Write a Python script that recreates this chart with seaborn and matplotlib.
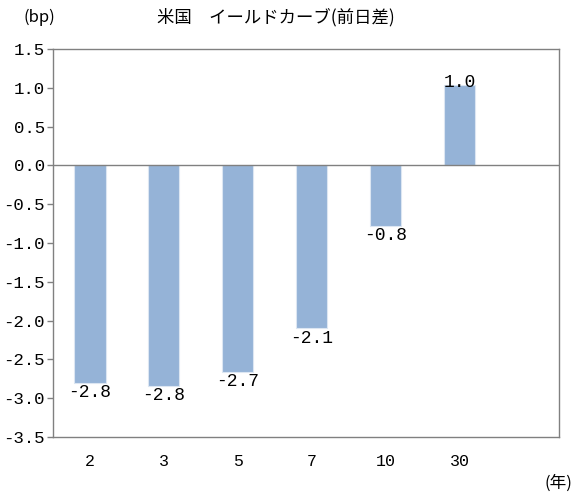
import pandas as pd
import seaborn as sns
import matplotlib.pyplot as plt
from matplotlib.ticker import FixedLocator, FuncFormatter

# data
maturities = ['2', '3', '5', '7', '10', '30']
changes = [-2.80, -2.84, -2.66, -2.10, -0.78, 1.03]
yticks = [1.5, 1.0, 0.5, 0.0, -0.5, -1.0, -1.5, -2.0, -2.5, -3.0, -3.5]

sns.set_theme(style='white')
plt.rcParams['font.family'] = ['Noto Sans CJK JP', 'DejaVu Sans']
plt.rcParams['axes.unicode_minus'] = False
plt.rcParams['text.color'] = 'black'
num_font = ['Liberation Mono', 'DejaVu Sans Mono']

df = pd.DataFrame({'maturity': maturities, 'change': changes})

fig = plt.figure(figsize=(5.86, 4.98), dpi=100)
ax = fig.add_axes([0.0904, 0.1225, 0.8636, 0.7791])

sns.barplot(data=df, x='maturity', y='change', order=maturities,
            color='#95B3D7', saturation=1, width=0.42,
            edgecolor='#DCE6F2', linewidth=0.8, ax=ax)

ax.axhline(0, color='#808080', linewidth=1.0, zorder=3)
ax.set_xlim(-0.5, 6.34)
ax.set_ylim(-3.5, 1.5)
ax.yaxis.set_major_locator(FixedLocator(yticks))
ax.yaxis.set_major_formatter(FuncFormatter(lambda v, p: f'{v:.1f}'))
ax.set_xlabel('')
ax.set_ylabel('')

for s in ax.spines.values():
    s.set_color('#808080')
    s.set_linewidth(1.0)
ax.tick_params(axis='y', which='major', left=True, length=4, width=1.0,
               color='#808080', labelcolor='black', pad=2)
ax.tick_params(axis='x', bottom=False, labelcolor='black', pad=6)
for lab in ax.get_yticklabels():
    lab.set_family(num_font)
    lab.set_fontsize(12.5)
for lab in ax.get_xticklabels():
    lab.set_family(num_font)
    lab.set_fontsize(12)

for i, v in enumerate(changes):
    if v < 0:
        ax.annotate(f'{v:.1f}', (i, v), xytext=(0, -1), textcoords='offset points',
                    ha='center', va='top', fontsize=13, family=num_font)
    else:
        ax.annotate(f'{v:.1f}', (i, v), xytext=(0, -4), textcoords='offset points',
                    ha='center', va='bottom', fontsize=13, family=num_font)

fig.text(0.470, 0.965, '米国　イールドカーブ(前日差)', ha='center', va='center', fontsize=12.5)
fig.text(0.068, 0.965, '(bp)', ha='center', va='center', fontsize=12)
fig.text(0.953, 0.03, '(年)', ha='center', va='center', fontsize=12)

fig.savefig('out.png', dpi=100)
